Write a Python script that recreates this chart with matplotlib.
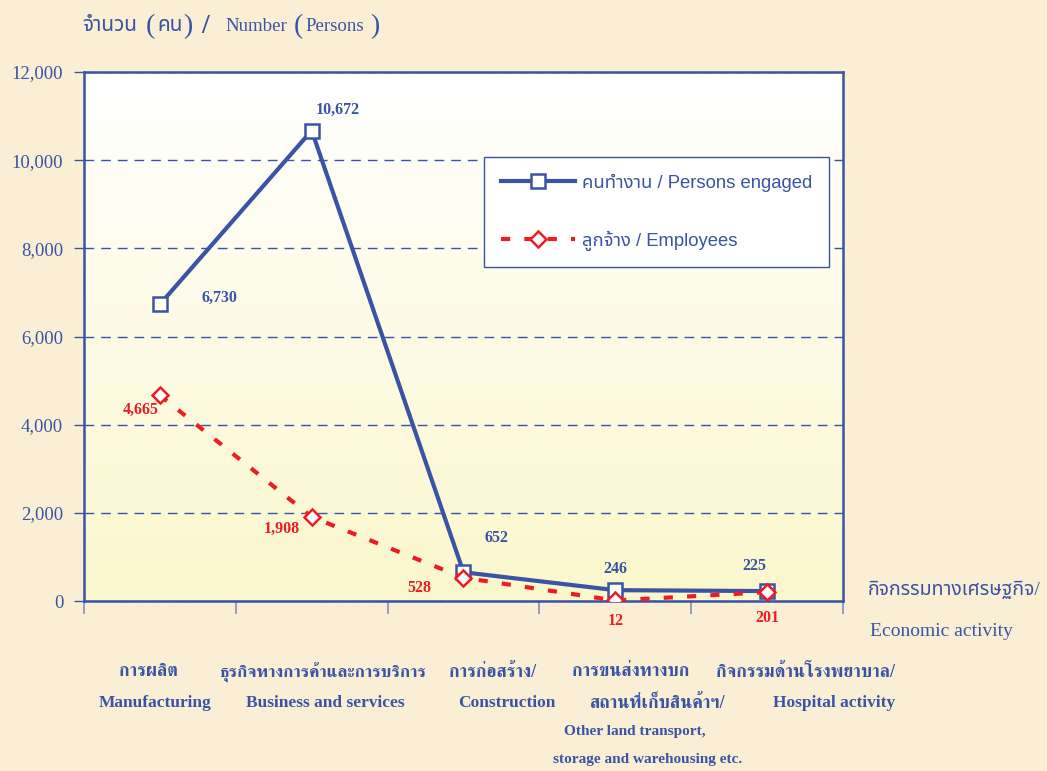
import numpy as np
import matplotlib
matplotlib.use("Agg")
import matplotlib.pyplot as plt
from matplotlib.colors import LinearSegmentedColormap

# data
categories = ["Manufacturing", "Business and services", "Construction",
              "Other land transport, storage and warehousing etc.", "Hospital activity"]
persons_engaged = [6730, 10672, 652, 246, 225]
employees = [4665, 1908, 528, 12, 201]
y_ticks = [0, 2000, 4000, 6000, 8000, 10000, 12000]

BLUE = "#3A53A4"
RED = "#ED1C24"
BG = "#FAEFD4"
W, H = 1047, 771
SERIF = ["Liberation Serif", "FreeSerif", "DejaVu Serif"]
THAI_SERIF = ["Liberation Serif", "FreeSerif"]
THAI_SANS = ["Liberation Sans", "Noto Sans Thai", "DejaVu Sans"]
THAI_TITLE = ["Liberation Serif", "Noto Sans Thai", "DejaVu Serif"]


def px(x, y):
    return x / W, 1 - y / H


fig = plt.figure(figsize=(W / 100, H / 100), dpi=100, facecolor=BG)
ax = fig.add_axes([84 / W, 1 - 601 / H, (843 - 84) / W, (601 - 72) / H])

# gradient plot area
grad = LinearSegmentedColormap.from_list("g", ["#FBF7CC", "#FFFFFF"])
ax.imshow(np.linspace(0, 1, 256).reshape(-1, 1), cmap=grad, aspect="auto",
          extent=[0, 1, 0, 1], transform=ax.transAxes, origin="lower", zorder=0)

x = np.arange(len(categories))
ax.plot(x, persons_engaged, color=BLUE, lw=3, marker="s", ms=10.5, mfc="white",
        mec=BLUE, mew=1.8, zorder=4, label="คนทำงาน / Persons engaged")
ax.plot(x, employees, color=RED, lw=3, ls=(0, (2.2, 3.4)), marker="D", ms=8.5,
        mfc="white", mec=RED, mew=1.8, zorder=5, label="ลูกจ้าง / Employees")

ax.set_xlim(-0.5, len(categories) - 0.5)
ax.set_ylim(0, 12000)
ax.set_yticks(y_ticks)
ax.set_yticklabels(["{:,}".format(v) for v in y_ticks], family=SERIF,
                   fontsize=13.5, color=BLUE)
ax.set_xticks(np.arange(len(categories) + 1) - 0.5)
ax.set_xticklabels([])
ax.tick_params(axis="y", direction="out", length=7, width=1, color=BLUE, pad=8)
ax.tick_params(axis="x", direction="out", length=9, width=1.2, color="#8090C0")
ax.yaxis.grid(True, color=BLUE, lw=1, ls=(0, (7, 5)))
ax.set_axisbelow(True)
for s in ax.spines.values():
    s.set_color(BLUE)
    s.set_linewidth(1.8)

# value labels (pixel offsets)
pe_off = [(60, 6), (26, 21), (33, 34), (0, 21), (-13, 25)]
em_off = [(-19, -15), (-30, -12), (-44, -10), (0, -21), (0, -26)]
for i, v in enumerate(persons_engaged):
    ax.annotate("{:,}".format(v), (i, v), xytext=(pe_off[i][0] * 0.72, pe_off[i][1] * 0.72),
                textcoords="offset points", ha="center", va="center",
                family=SERIF, weight="bold", fontsize=11.5, color=BLUE, zorder=6)
for i, v in enumerate(employees):
    ax.annotate("{:,}".format(v), (i, v), xytext=(em_off[i][0] * 0.72, em_off[i][1] * 0.72),
                textcoords="offset points", ha="center", va="center",
                family=SERIF, weight="bold", fontsize=11.5, color=RED, zorder=6)

leg = ax.legend(loc="upper left", bbox_to_anchor=(0.527, 0.839), frameon=True,
                fancybox=False, prop={"family": THAI_SANS, "size": 13.3},
                labelcolor=BLUE, handlelength=4.0, labelspacing=2.1,
                borderpad=0.9, handletextpad=0.4, borderaxespad=0)
leg.get_frame().set_edgecolor(BLUE)
leg.get_frame().set_linewidth(1)
leg.get_frame().set_facecolor("white")
leg.get_frame().set_alpha(1)

# axis title
def t(xp, yp, s, size, fam, **kw):
    fig.text(*px(xp, yp), s, fontsize=size, family=fam, color=BLUE, **kw)

base = 31
t(82, base, "จำนวน", 15, THAI_TITLE, va="baseline")
t(146, base + 2, "(", 20, SERIF, va="baseline")
t(157, base, "คน", 15, THAI_TITLE, va="baseline")
t(183, base + 2, ")", 20, SERIF, va="baseline")
t(201, base + 2, "/", 20, SERIF, va="baseline", weight="bold")
t(225, base, "Number", 13.6, SERIF, va="baseline")
t(294, base + 2, "(", 20, SERIF, va="baseline")
t(305, base, "Persons", 13.6, SERIF, va="baseline")
t(370, base + 2, ")", 20, SERIF, va="baseline")

t(868, 590, "กิจกรรมทางเศรษฐกิจ/", 14, THAI_TITLE, va="center", ha="left")
t(941, 631, "Economic activity", 14, SERIF, va="center", ha="center")

# category labels
cat_lines = [
    [("การผลิต", 148, 672, 13), ("Manufacturing", 155, 703, 12.5)],
    [("ธุรกิจทางการค้าและการบริการ", 323, 672, 12.5), ("Business and services", 325, 703, 12.5)],
    [("การก่อสร้าง/", 493, 672, 13), ("Construction", 507, 703, 12.5)],
    [("การขนส่งทางบก", 631, 672, 13), ("สถานที่เก็บสินค้าฯ/", 658, 703, 13),
     ("Other land transport,", 635, 731, 11), ("storage and warehousing etc.", 648, 759, 11)],
    [("กิจกรรมด้านโรงพยาบาล/", 805, 672, 13), ("Hospital activity", 834, 703, 12.5)],
]
for lines in cat_lines:
    for s, xp, yp, size in lines:
        t(xp, yp, s, size, THAI_SERIF, va="center", ha="center", weight="bold")

fig.savefig("out.png", dpi=100, facecolor=BG)
